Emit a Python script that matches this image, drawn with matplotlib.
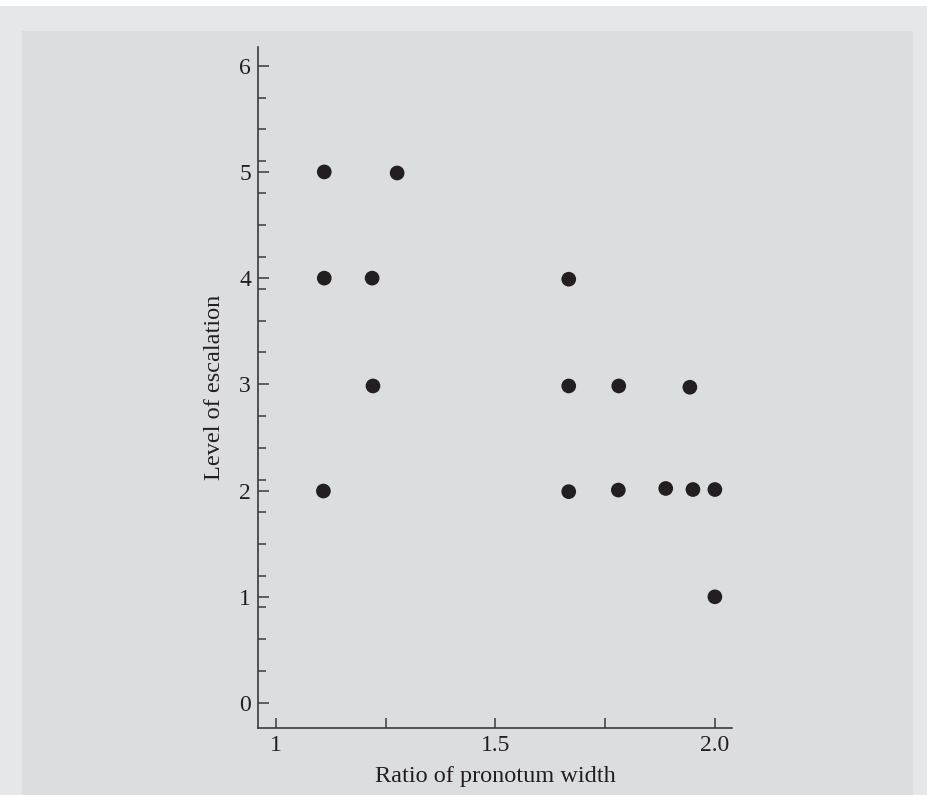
import matplotlib
matplotlib.use('Agg')

import matplotlib.pyplot as plt
from matplotlib.patches import Rectangle
from matplotlib.ticker import MultipleLocator, FixedLocator

# Data
ratio = [1.11, 1.276, 1.11, 1.219, 1.221, 1.108,
         1.667, 1.667, 1.781, 1.943,
         1.667, 1.78, 1.888, 1.95, 2.0, 2.0]
escalation = [5.0, 4.99, 4.0, 4.0, 2.985, 1.996,
              3.99, 2.985, 2.985, 2.973,
              1.99, 2.005, 2.02, 2.01, 2.01, 1.0]

xtick_vals = [1, 1.5, 2.0]
xtick_labels = ['1', '1.5', '2.0']
ytick_vals = [0, 1, 2, 3, 4, 5, 6]

W, H = 927, 795
ink = '#231f20'
axis_col = '#3a3a3c'

plt.rcParams['font.family'] = ['Liberation Serif', 'DejaVu Serif']

fig = plt.figure(figsize=(W / 100, H / 100), dpi=100, facecolor='#e6e7e8')

# background: white strip on top and inner grey panel
bg = fig.add_axes([0, 0, 1, 1], zorder=0)
bg.set_xlim(0, W)
bg.set_ylim(H, 0)
bg.axis('off')
bg.add_patch(Rectangle((0, 0), W, 6, facecolor='white', edgecolor='none'))
bg.add_patch(Rectangle((22, 31), 913 - 22, H, facecolor='#dcdddf', edgecolor='none'))

ax = fig.add_axes([258 / W, (H - 728) / H, (732 - 258) / W, (728 - 47) / H], zorder=2)
ax.set_facecolor('none')

ax.scatter(ratio, escalation, s=112, color=ink, edgecolors='none', zorder=3)

ax.set_xlim(0.959, 2.039)
ax.set_ylim(-0.235, 6.176)

ax.xaxis.set_major_locator(FixedLocator(xtick_vals))
ax.set_xticklabels(xtick_labels)
ax.xaxis.set_minor_locator(MultipleLocator(0.25))
ax.yaxis.set_major_locator(FixedLocator(ytick_vals))
ax.yaxis.set_minor_locator(MultipleLocator(0.3))

for s in ['top', 'right']:
    ax.spines[s].set_visible(False)
for s in ['left', 'bottom']:
    ax.spines[s].set_color(axis_col)
    ax.spines[s].set_linewidth(1.2)

ax.tick_params(axis='x', which='both', direction='in', length=7.2, width=1.1,
               color=axis_col, labelsize=17, labelcolor=ink, pad=5)
ax.tick_params(axis='y', which='major', direction='in', length=7.7, width=1.1,
               color=axis_col, labelsize=17, labelcolor=ink, pad=5)
ax.tick_params(axis='y', which='minor', direction='in', length=5.8, width=1.1,
               color=axis_col)

ax.set_xlabel('Ratio of pronotum width', fontsize=17.5, color=ink, labelpad=7)
ax.set_ylabel('Level of escalation', fontsize=17.5, color=ink, labelpad=10)

plt.savefig('out.png', dpi=100, facecolor=fig.get_facecolor())
plt.close()
